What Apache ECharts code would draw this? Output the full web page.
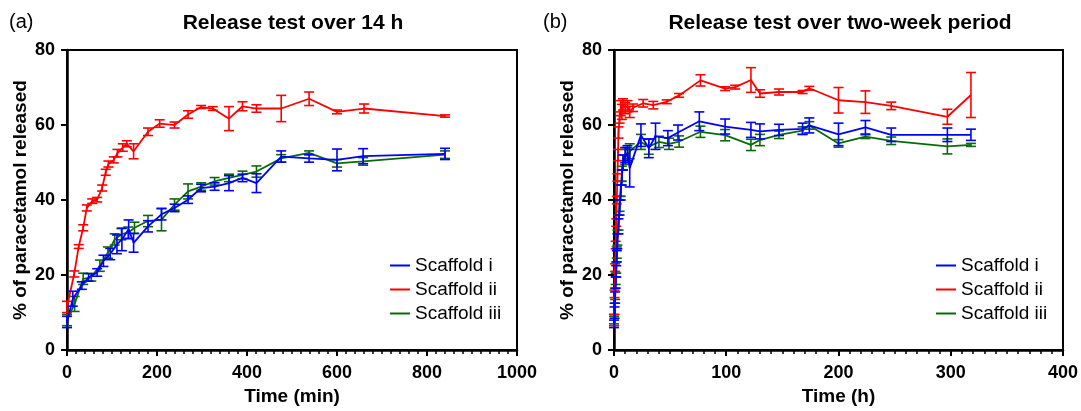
<!DOCTYPE html>
<html>
<head>
<meta charset="utf-8">
<script src="https://cdn.jsdelivr.net/npm/echarts@6/dist/echarts.min.js"></script>
<style>
html,body{margin:0;padding:0;background:#fff;}
#chart{width:1081px;height:411px;}
</style>
</head>
<body>
<div id="chart"></div>
<script>
// ---------- Panel (a): release over 14 h (time in min) ----------
const tA_i   = [0, 13, 33, 48, 67, 81, 96, 111, 122, 137, 148, 180, 210, 239, 269, 298, 328, 360, 390, 421, 476, 538, 600, 658, 840];
const vA_i   = [7.5, 13.7, 17.2, 19.4, 20.7, 23.8, 25.6, 28.2, 29.5, 32.2, 28.6, 33.0, 36.2, 37.9, 40.1, 43.2, 43.6, 44.5, 45.9, 44.5, 51.6, 51.1, 50.7, 51.7, 52.3];
const eA_i   = [1.5, 2.0, 1.0, 1.0, 1.0, 1.5, 1.5, 2.5, 3.0, 2.5, 2.5, 1.5, 1.5, 1.0, 1.0, 1.0, 1.0, 2.0, 1.0, 2.5, 1.5, 1.0, 2.9, 2.0, 1.5];

const tA_ii  = [0, 16, 26, 36, 44, 56, 67, 78, 86, 92, 104, 112, 124, 133, 148, 180, 206, 239, 269, 298, 324, 360, 390, 421, 476, 538, 600, 660, 840];
const vA_ii  = [11.5, 20.3, 27.6, 32.6, 37.9, 39.7, 40.1, 43.2, 47.4, 49.6, 50.7, 52.5, 54.0, 55.0, 53.0, 58.2, 60.4, 60.0, 62.8, 64.8, 64.4, 61.7, 65.0, 64.4, 64.4, 67.0, 63.5, 64.4, 62.4];
const eA_ii  = [1.5, 0.8, 0.5, 0.8, 0.8, 0.6, 0.6, 0.8, 0.8, 0.8, 0.8, 1.0, 1.0, 0.8, 2.0, 1.0, 1.0, 0.8, 1.0, 0.4, 0.5, 3.2, 1.2, 1.0, 3.5, 1.8, 0.5, 1.2, 0.3];

const tA_iii = [0, 17, 36, 54, 73, 91, 106, 121, 136, 150, 180, 210, 239, 269, 298, 328, 360, 390, 421, 476, 538, 600, 658, 840];
const vA_iii = [8.0, 12.3, 19.0, 19.4, 22.5, 26.0, 29.5, 30.9, 31.3, 32.6, 34.4, 34.8, 38.8, 42.3, 43.6, 45.0, 45.9, 46.7, 47.6, 51.1, 52.6, 49.8, 50.3, 52.1];
const eA_iii = [1.5, 2.0, 1.5, 1.0, 1.5, 1.5, 1.5, 1.5, 1.5, 1.5, 1.5, 3.0, 1.5, 2.0, 1.0, 1.0, 1.0, 1.0, 1.5, 1.0, 0.5, 1.0, 1.0, 1.0];

// ---------- Panel (b): release over two weeks (time in h) ----------
const tB_i   = [0, 0.5, 1, 1.5, 2, 2.5, 3, 4, 5, 6, 7, 8, 10, 12, 14, 24, 31, 37, 48, 57, 76, 99, 122, 130, 147, 168, 174, 200, 224, 247, 297, 318];
const vB_i   = [7, 10, 14, 18, 21, 25, 29, 33, 38, 42, 46, 50, 52, 52.5, 48.5, 57.3, 53.8, 57, 56.5, 58, 61, 59.6, 58.7, 58.3, 58.7, 59, 59.9, 57.5, 59.4, 57.4, 57.4, 57.4];
const eB_i   = [1, 1.5, 1.5, 1.5, 1.5, 1.5, 2, 2, 2, 2, 2, 2, 2, 2, 5, 3, 2.5, 3.5, 2, 2, 2.5, 2, 2, 2, 1.5, 1.5, 2, 3, 1.8, 1.8, 1.8, 1.5];

const tB_ii  = [0, 0.5, 1, 1.5, 2, 2.5, 3, 3.5, 4, 5, 6, 7, 8, 10, 12, 14, 17, 26, 35, 47, 58, 77, 99, 108, 122, 130, 147, 168, 174, 200, 224, 247, 297, 318];
const vB_ii  = [8, 15, 22, 28, 34, 40, 46, 52, 58, 62, 64.5, 63.5, 65.5, 64.5, 65, 63.5, 64.6, 65.8, 65.3, 66.2, 67.9, 71.9, 69.7, 70.1, 72, 68.4, 68.8, 68.8, 69.8, 66.6, 66.1, 65.1, 62.2, 68];
const eB_ii  = [1.5, 1, 1, 1, 1, 1, 1, 1.5, 1.5, 1.5, 2, 2, 1.5, 1.5, 1.5, 1.5, 1, 1, 1, 0.5, 0.5, 1.5, 0.5, 0.5, 3.3, 1, 0.8, 0.4, 0.5, 3.4, 3, 1, 2, 6];

const tB_iii = [0, 0.5, 1, 1.5, 2, 2.5, 3, 4, 5, 6, 7, 8, 10, 12, 14, 24, 31, 40, 49, 58, 77, 99, 122, 130, 147, 168, 174, 200, 224, 247, 297, 318];
const vB_iii = [8, 11, 15, 19, 22, 26, 30, 34, 39, 43, 47, 50, 51.5, 52, 53, 55.5, 54.2, 55.5, 55, 55.6, 58.2, 57.3, 54.7, 56, 57.4, 58.5, 59.9, 55.1, 56.9, 55.8, 54.3, 54.7];
const eB_iii = [1, 1.5, 1.5, 1.5, 1.5, 1.5, 2, 2, 2, 2, 2, 2, 2, 2, 2, 2, 2, 1.5, 1.5, 1.5, 1.5, 1.5, 1.5, 1.5, 1, 1, 1, 1, 0.5, 1, 2, 0.4];

const names = ['Scaffold i', 'Scaffold ii', 'Scaffold iii'];
const colors = ['#0000ff', '#ff0000', '#0a6a0a'];
const titles = ['Release test over 14 h', 'Release test over two-week period'];
const xNames = ['Time (min)', 'Time (h)'];
const yName = '% of paracetamol released';
const xTicksA = [0, 200, 400, 600, 800, 1000];
const xTicksB = [0, 100, 200, 300, 400];
const yTicks = [0, 20, 40, 60, 80];

const FONT = 'Liberation Sans, Arial, Helvetica, sans-serif';

function pairs(t, v) { return t.map((x, i) => [x, v[i]]); }
function errs(t, v, e) { return t.map((x, i) => [x, v[i] - e[i], v[i] + e[i]]); }

function errRender(color) {
  return function (params, api) {
    const x = api.value(0), lo = api.value(1), hi = api.value(2);
    const p1 = api.coord([x, lo]);
    const p2 = api.coord([x, hi]);
    const w = 5;
    const st = { stroke: color, lineWidth: 1.6 };
    return {
      type: 'group',
      children: [
        { type: 'line', shape: { x1: p1[0], y1: p1[1], x2: p2[0], y2: p2[1] }, style: st },
        { type: 'line', shape: { x1: p1[0] - w, y1: p1[1], x2: p1[0] + w, y2: p1[1] }, style: st },
        { type: 'line', shape: { x1: p2[0] - w, y1: p2[1], x2: p2[0] + w, y2: p2[1] }, style: st }
      ]
    };
  };
}

const panelData = [
  [[tA_i, vA_i, eA_i], [tA_ii, vA_ii, eA_ii], [tA_iii, vA_iii, eA_iii]],
  [[tB_i, vB_i, eB_i], [tB_ii, vB_ii, eB_ii], [tB_iii, vB_iii, eB_iii]]
];
const zOrder = [3, 2, 1];

const series = [];
panelData.forEach((panel, p) => {
  panel.forEach((d, k) => {
    series.push({
      name: names[k], type: 'line', xAxisIndex: p, yAxisIndex: p,
      data: pairs(d[0], d[1]), showSymbol: false, symbol: 'none',
      lineStyle: { color: colors[k], width: 1.8 }, itemStyle: { color: colors[k] },
      z: zOrder[k] + 2, animation: false
    });
    series.push({
      name: names[k], type: 'custom', xAxisIndex: p, yAxisIndex: p,
      data: errs(d[0], d[1], d[2]), renderItem: errRender(colors[k]),
      encode: { x: 0, y: [1, 2] }, itemStyle: { color: colors[k] },
      z: zOrder[k] + 2, animation: false
    });
  });
});

const grids = [
  { left: 67, top: 50, width: 450, height: 302 },
  { left: 614, top: 50, width: 449, height: 302 }
].map(g => Object.assign(g, { show: true, borderColor: '#000', borderWidth: 2, backgroundColor: 'transparent', containLabel: false }));

function xAxis(p) {
  const ticks = p === 0 ? xTicksA : xTicksB;
  return {
    type: 'value', gridIndex: p, min: ticks[0], max: ticks[ticks.length - 1],
    interval: ticks[1] - ticks[0],
    name: xNames[p], nameLocation: 'middle', nameGap: 35,
    nameTextStyle: { fontFamily: FONT, fontWeight: 'bold', fontSize: 19, color: '#000' },
    axisLine: { show: true, onZero: false, lineStyle: { color: '#000', width: 2.5 } },
    axisTick: { show: true, inside: false, length: 6, lineStyle: { color: '#000', width: 2 } },
    minorTick: { show: true, splitNumber: 10, length: 4, lineStyle: { color: '#000', width: 1.5 } },
    splitLine: { show: false }, minorSplitLine: { show: false },
    axisLabel: { fontFamily: FONT, fontWeight: 'bold', fontSize: 18, color: '#000', margin: 14,
      formatter: v => String(v) }
  };
}
function yAxis(p) {
  return {
    type: 'value', gridIndex: p, min: yTicks[0], max: yTicks[yTicks.length - 1],
    interval: yTicks[1] - yTicks[0],
    name: yName, nameLocation: 'middle', nameGap: 37, nameRotate: 90,
    nameTextStyle: { fontFamily: FONT, fontWeight: 'bold', fontSize: 19, color: '#000' },
    axisLine: { show: true, onZero: false, lineStyle: { color: '#000', width: 2.5 } },
    axisTick: { show: true, inside: false, length: 6, lineStyle: { color: '#000', width: 2 } },
    splitLine: { show: false },
    axisLabel: { fontFamily: FONT, fontWeight: 'bold', fontSize: 18, color: '#000', margin: 12,
      formatter: v => String(v) }
  };
}

function legend(left) {
  return {
    data: names.map((n, k) => ({ name: n, icon: 'rect' })),
    orient: 'vertical', left: left, top: 251,
    itemWidth: 20, itemHeight: 2, itemGap: 5,
    textStyle: { fontFamily: FONT, fontSize: 19, color: '#000' },
    selectedMode: false
  };
}

const chart = echarts.init(document.getElementById('chart'), null, { renderer: 'canvas' });
chart.setOption({
  animation: false,
  backgroundColor: '#fff',
  grid: grids,
  xAxis: [xAxis(0), xAxis(1)],
  yAxis: [yAxis(0), yAxis(1)],
  legend: [legend(385), legend(931)],
  series: series,
  graphic: [
    { type: 'text', left: 9, top: 12, style: { text: '(a)', font: '20px ' + FONT, fill: '#000' } },
    { type: 'text', left: 543, top: 12, style: { text: '(b)', font: '20px ' + FONT, fill: '#000' } },
    { type: 'text', x: 293, y: 23, style: { text: titles[0], font: 'bold 21px ' + FONT, fill: '#000', textAlign: 'center', textVerticalAlign: 'middle' } },
    { type: 'text', x: 840, y: 23, style: { text: titles[1], font: 'bold 21px ' + FONT, fill: '#000', textAlign: 'center', textVerticalAlign: 'middle' } }
  ]
});
</script>
</body>
</html>
